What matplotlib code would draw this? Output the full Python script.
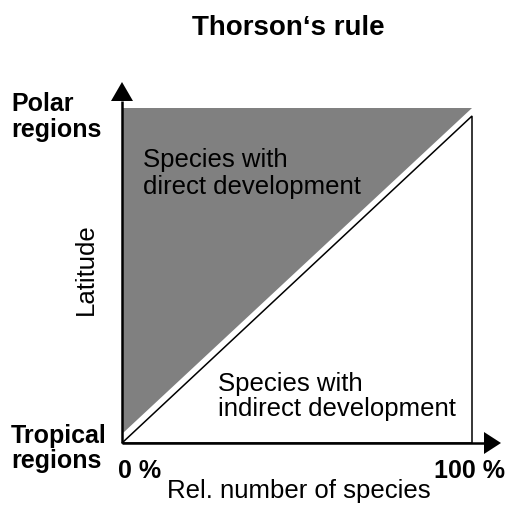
import matplotlib
matplotlib.use("Agg")
import matplotlib.pyplot as plt
from matplotlib.patches import Polygon

plt.rcParams['font.family'] = ['Liberation Sans', 'DejaVu Sans']

# Schematic data (x: relative number of species in %, y: relative latitude 0..1)
direct_x = [0.3, 0.0, 100.0]
direct_y = [0.03, 1.0, 1.0]
indirect_x = [0.0, 100.0, 100.0]
indirect_y = [0.0, 0.0, 0.975]
x_ticks = [0, 100]
x_tick_labels = ["0 %", "100 %"]

W, H = 512, 505
fig = plt.figure(figsize=(W / 100, H / 100), dpi=100)
ax = fig.add_axes([0, 0, 1, 1])
sx = 3.5      # px per x unit
sy = 335.0    # px per y unit
x0px, y0top = 122, 443  # origin in pixels (from left, from top)
ax.set_xlim(-x0px / sx, (W - x0px) / sx)
ax.set_ylim(-(H - y0top) / sy, y0top / sy)
ax.axis('off')


def px(x, y):
    """pixel (from left, from top) -> data"""
    return (x - x0px) / sx, (y0top - y) / sy


ax.add_patch(Polygon(list(zip(direct_x, direct_y)), closed=True,
                     facecolor='#808080', edgecolor='none'))
ax.add_patch(Polygon(list(zip(indirect_x, indirect_y)), closed=True,
                     facecolor='white', edgecolor='black', linewidth=1.1))

# Axes with arrows
ax.plot([0, 0], [0, 1.02], color='black', lw=1.8, solid_capstyle='butt')
ax.plot([0, 104], [0, 0], color='black', lw=1.8, solid_capstyle='butt')
ax.add_patch(Polygon([px(111, 101), px(133, 101), px(122, 82)],
                     closed=True, facecolor='black', edgecolor='none'))
ax.add_patch(Polygon([px(484, 432), px(484, 454), px(501, 443)],
                     closed=True, facecolor='black', edgecolor='none'))

FS = 18.5
FB = 18


def t(x, y, s, **kw):
    X, Y = px(x, y)
    kw.setdefault('fontsize', FS)
    kw.setdefault('va', 'baseline')
    ax.text(X, Y, s, **kw)


t(288, 35, "Thorson‘s rule", ha='center', fontweight='bold', fontsize=20)
t(11, 111, "Polar", ha='left', fontweight='bold', fontsize=FB)
t(11, 137, "regions", ha='left', fontweight='bold', fontsize=FB)
t(11, 443, "Tropical", ha='left', fontweight='bold', fontsize=FB)
t(11, 468, "regions", ha='left', fontweight='bold', fontsize=FB)
X, Y = px(86, 269)
ax.text(X, Y, "Latitude", ha='center', va='center', rotation=90, fontsize=FS)
t(118, 478, x_tick_labels[0], ha='left', fontweight='bold', fontsize=FB)
t(505, 478, x_tick_labels[1], ha='right', fontweight='bold', fontsize=FB)
t(299, 498, "Rel. number of species", ha='center')
t(143, 167, "Species with", ha='left')
t(143, 194, "direct development", ha='left')
t(218, 391, "Species with", ha='left')
t(218, 416, "indirect development", ha='left')

fig.savefig("out.png", dpi=100)
